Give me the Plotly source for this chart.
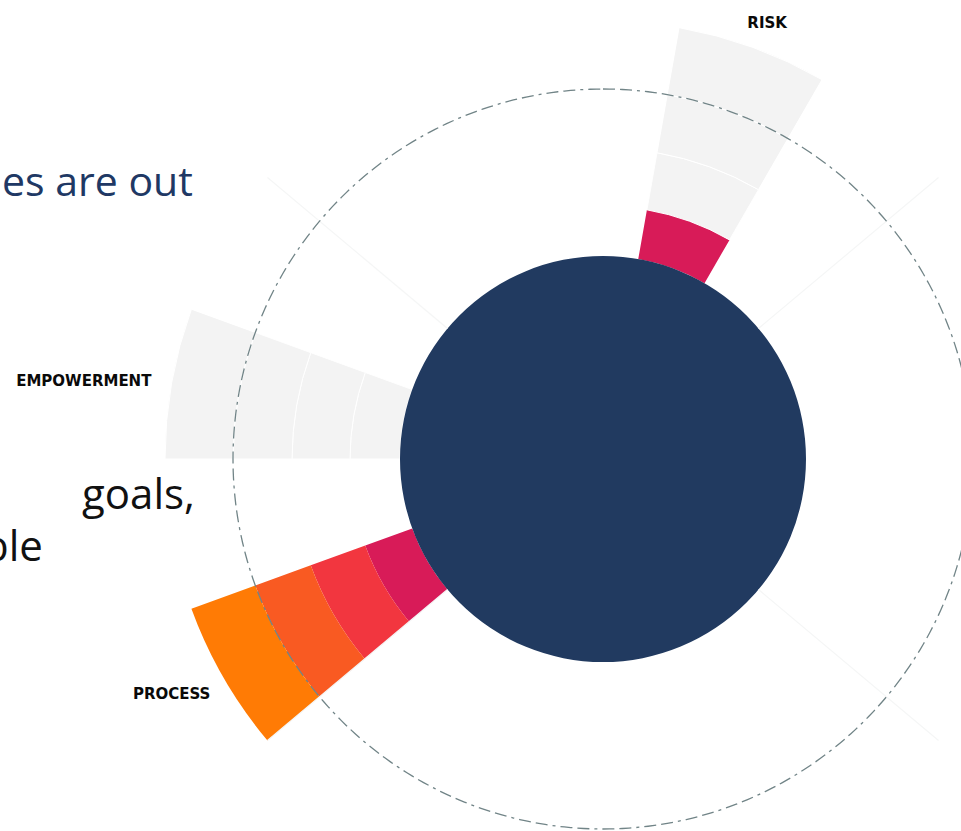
import plotly.graph_objects as go

# --- data -----------------------------------------------------------------
CATEGORIES = ["RISK", "EMPOWERMENT", "PROCESS"]
CATEGORY_ANGLES = [20, 280, 240]          # compass bearing of each wedge
FILLED_BANDS = [1, 0, 4]                  # how many maturity bands are reached

CORE_RADIUS = 203                         # radius of the central disc
BAND_SIZES = [50, 58, 59, 68]             # radial depth of the four bands
TARGET_RING = 370                         # dashed reference ring
SPOKE_ANGLES = [50, 130, 230, 310]        # faint divider lines

BAND_COLORS = ["#D81B58", "#F2363F", "#F95A22", "#FF7B05"]
EMPTY_COLOR = "#F3F3F3"
CORE_COLOR = "#213A60"

SLIDE_TEXT = [
    ("es are out", "#203864", 195, 180, 41),
    ("goals,", "#111111", 197, 492, 42),
    ("ble", "#111111", 45, 544, 42),
]

# --- figure ---------------------------------------------------------------
FIG_W, FIG_H = 1206, 918
fig = go.Figure()

# faint spokes separating the sectors
sp_r, sp_t = [], []
for a in SPOKE_ANGLES:
    sp_r += [CORE_RADIUS, CORE_RADIUS + sum(BAND_SIZES), None]
    sp_t += [a, a, None]
fig.add_trace(go.Scatterpolar(
    r=sp_r, theta=sp_t, mode="lines",
    line=dict(color="#F5F6F6", width=1.2),
    hoverinfo="skip", showlegend=False,
))

# band segments, one trace per band level
base = CORE_RADIUS
for i, size in enumerate(BAND_SIZES):
    colors = [BAND_COLORS[i] if i < n else EMPTY_COLOR for n in FILLED_BANDS]
    line_w = [0 if i < n else 1 for n in FILLED_BANDS]
    fig.add_trace(go.Barpolar(
        r=[size] * len(CATEGORIES),
        base=[base] * len(CATEGORIES),
        theta=CATEGORY_ANGLES,
        width=[20] * len(CATEGORIES),
        marker=dict(color=colors, line=dict(color="white", width=line_w)),
        hoverinfo="skip", showlegend=False,
    ))
    base += size

# central disc
fig.add_trace(go.Barpolar(
    r=[CORE_RADIUS], base=[0], theta=[0], width=[360],
    marker=dict(color=CORE_COLOR, line=dict(width=0)),
    hoverinfo="skip", showlegend=False,
))

# dashed target ring
ring_theta = list(range(0, 361))
fig.add_trace(go.Scatterpolar(
    r=[TARGET_RING] * len(ring_theta), theta=ring_theta, mode="lines",
    line=dict(color="#718487", width=1.3, dash="12px,5px,12px,5px,3px,5px"),
    hoverinfo="skip", showlegend=False,
))

# category labels, placed just outside the wedges
label_r = [458, 458, 458]
label_theta = [21, 279.6, 239]
label_pos = ["top center", "middle left", "middle left"]
fig.add_trace(go.Scatterpolar(
    r=label_r, theta=label_theta, mode="text",
    text=CATEGORIES, textposition=label_pos,
    textfont=dict(family="DejaVu Sans", size=15, color="#0A0A0A", weight="bold"),
    cliponaxis=False, hoverinfo="skip", showlegend=False,
))

for txt, col, xr, yc, fs in SLIDE_TEXT:
    fig.add_annotation(
        x=xr / FIG_W, y=1 - yc / FIG_H, xref="paper", yref="paper",
        xanchor="right", yanchor="middle", showarrow=False,
        text=txt, font=dict(family="Open Sans", size=fs, color=col),
    )

fig.update_layout(
    width=FIG_W, height=FIG_H,
    margin=dict(l=0, r=0, t=0, b=0),
    paper_bgcolor="white",
    polar=dict(
        domain=dict(x=[0, 1], y=[0, 1]),
        bgcolor="white",
        radialaxis=dict(visible=False, range=[0, FIG_H / 2]),
        angularaxis=dict(rotation=90, direction="clockwise", showgrid=False,
                         showline=False, showticklabels=False, ticks=""),
        barmode="overlay",
    ),
)

fig.write_html("out.html")
